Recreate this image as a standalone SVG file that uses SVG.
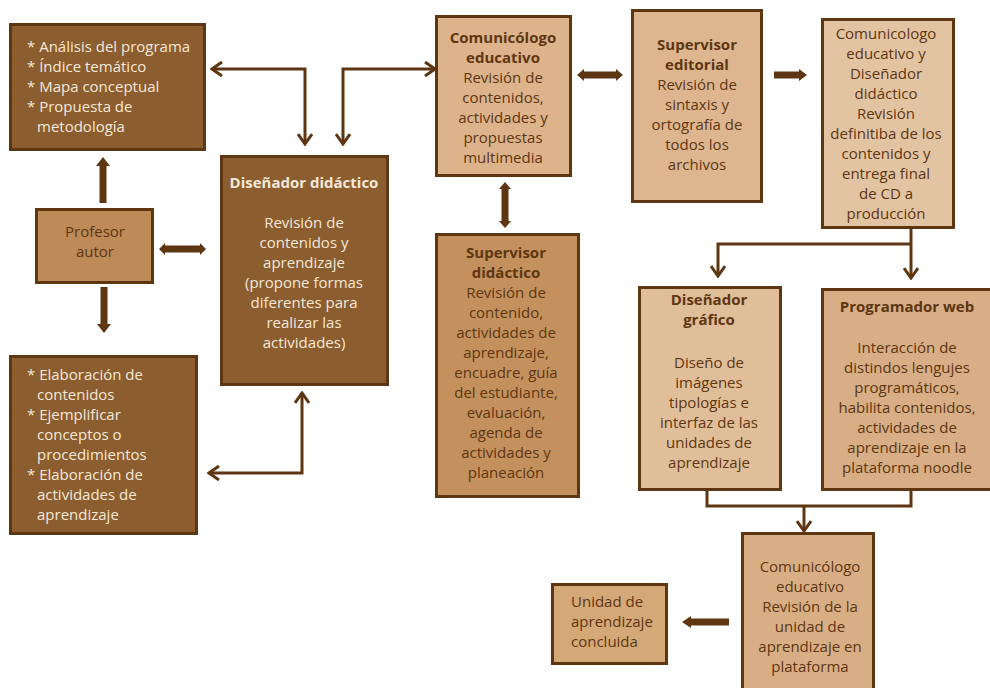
<svg xmlns="http://www.w3.org/2000/svg" width="990" height="688" viewBox="0 0 990 688">
<defs>
<style>
.box{stroke:#5e3612;stroke-width:3}
.dk{fill:#8b5d2f}
.t{font-family:"Open Sans","Liberation Sans",sans-serif;font-size:15px}
.lt{fill:#f5e8d8}
.dt{fill:#5e3612}
.b{font-weight:bold}
.c{text-anchor:middle}
.ln{fill:none;stroke:#5e3612;stroke-width:3}
.th{fill:#5e3612}
</style>
<marker id="ah" markerUnits="userSpaceOnUse" viewBox="0 0 16 16" refX="14" refY="8" markerWidth="16" markerHeight="16" orient="auto-start-reverse">
<path d="M4,1 L14,8 L4,15" fill="none" stroke="#5e3612" stroke-width="3"/>
</marker>
</defs>
<rect width="990" height="688" fill="#ffffff"/>

<g id="connectors">
<polyline class="ln" points="212,69 305,69 305,144" marker-start="url(#ah)" marker-end="url(#ah)"/>
<polyline class="ln" points="343,144 343,69 435,69" marker-start="url(#ah)" marker-end="url(#ah)"/>
<polyline class="ln" points="209,473 302,473 302,393" marker-start="url(#ah)" marker-end="url(#ah)"/>
<polyline class="ln" points="911,229 911,278" marker-end="url(#ah)"/>
<polyline class="ln" points="911,244 718,244 718,276" marker-end="url(#ah)"/>
<polyline class="ln" points="707,491 707,506 911,506 911,491"/>
<polyline class="ln" points="804,506 804,531" marker-end="url(#ah)"/>
<!-- thick arrows -->
<polygon class="th" points="99.5,203 106.5,203 106.5,166 110,166 103,157 96,166 99.5,166"/>
<polygon class="th" points="100.5,287 107.5,287 107.5,324 111,324 104,333 97,324 100.5,324"/>
<polygon class="th" points="159,249 165,243 165,245.5 200,245.5 200,243 206,249 200,255 200,252.5 165,252.5 165,255"/>
<polygon class="th" points="577,75 584,69 584,71.5 616,71.5 616,69 623,75 616,81 616,78.5 584,78.5 584,81"/>
<polygon class="th" points="505,182 511,189 508.5,189 508.5,221 511,221 505,228 499,221 501.5,221 501.5,189 499,189"/>
<polygon class="th" points="774,71.5 799,71.5 799,69 807,75 799,81 799,78.5 774,78.5"/>
<polygon class="th" points="729,618.5 691,618.5 691,616 682,622 691,628 691,625.5 729,625.5"/>
</g>

<g id="analisis">
<rect class="box dk" x="10.5" y="24.5" width="194" height="125"/>
<text class="t lt" x="27" y="52">* Análisis del programa</text>
<text class="t lt" x="27" y="72">* Índice temático</text>
<text class="t lt" x="27" y="92">* Mapa conceptual</text>
<text class="t lt" x="27" y="112">* Propuesta de</text>
<text class="t lt" x="37" y="132">metodología</text>
</g>

<g id="profesor">
<rect class="box" fill="#bd8a58" x="36.5" y="209.5" width="116" height="73"/>
<text class="t dt c" x="95" y="237">Profesor</text>
<text class="t dt c" x="95" y="257">autor</text>
</g>

<g id="elaboracion">
<rect class="box dk" x="10.5" y="356.5" width="186" height="177"/>
<text class="t lt" x="27" y="380">* Elaboración de</text>
<text class="t lt" x="37" y="400">contenidos</text>
<text class="t lt" x="27" y="420">* Ejemplificar</text>
<text class="t lt" x="37" y="440">conceptos o</text>
<text class="t lt" x="37" y="460">procedimientos</text>
<text class="t lt" x="27" y="480">* Elaboración de</text>
<text class="t lt" x="37" y="500">actividades de</text>
<text class="t lt" x="37" y="520">aprendizaje</text>
</g>

<g id="disenador-didactico">
<rect class="box dk" x="221.5" y="156.5" width="166" height="228"/>
<text class="t lt c b" x="304" y="188">Diseñador didáctico</text>
<text class="t lt c" x="304" y="228">Revisión de</text>
<text class="t lt c" x="304" y="248">contenidos y</text>
<text class="t lt c" x="304" y="268">aprendizaje</text>
<text class="t lt c" x="304" y="288">(propone formas</text>
<text class="t lt c" x="304" y="308">diferentes para</text>
<text class="t lt c" x="304" y="328">realizar las</text>
<text class="t lt c" x="304" y="348">actividades)</text>
</g>

<g id="comunicologo-educativo">
<rect class="box" fill="#ddb38b" x="436.5" y="16.5" width="134" height="159"/>
<text class="t dt c b" x="503" y="43">Comunicólogo</text>
<text class="t dt c b" x="503" y="63">educativo</text>
<text class="t dt c" x="503" y="83">Revisión de</text>
<text class="t dt c" x="503" y="103">contenidos,</text>
<text class="t dt c" x="503" y="123">actividades y</text>
<text class="t dt c" x="503" y="143">propuestas</text>
<text class="t dt c" x="503" y="163">multimedia</text>
</g>

<g id="supervisor-editorial">
<rect class="box" fill="#ddb690" x="632.5" y="10.5" width="129" height="191"/>
<text class="t dt c b" x="697" y="50">Supervisor</text>
<text class="t dt c b" x="697" y="70">editorial</text>
<text class="t dt c" x="697" y="90">Revisión de</text>
<text class="t dt c" x="697" y="110">sintaxis y</text>
<text class="t dt c" x="697" y="130">ortografía de</text>
<text class="t dt c" x="697" y="150">todos los</text>
<text class="t dt c" x="697" y="170">archivos</text>
</g>

<g id="comunicologo-disenador">
<rect class="box" fill="#e3c4a2" x="822.5" y="19.5" width="131" height="208"/>
<text class="t dt c" x="886" y="39">Comunicologo</text>
<text class="t dt c" x="886" y="59">educativo y</text>
<text class="t dt c" x="886" y="79">Diseñador</text>
<text class="t dt c" x="886" y="99">didáctico</text>
<text class="t dt c" x="886" y="119">Revisión</text>
<text class="t dt c" x="886" y="139">definitiba de los</text>
<text class="t dt c" x="886" y="159">contenidos y</text>
<text class="t dt c" x="886" y="179">entrega final</text>
<text class="t dt c" x="886" y="199">de CD a</text>
<text class="t dt c" x="886" y="219">producción</text>
</g>

<g id="supervisor-didactico">
<rect class="box" fill="#c4915e" x="436.5" y="234.5" width="142" height="262"/>
<text class="t dt c b" x="506" y="258">Supervisor</text>
<text class="t dt c b" x="506" y="278">didáctico</text>
<text class="t dt c" x="506" y="298">Revisión de</text>
<text class="t dt c" x="506" y="318">contenido,</text>
<text class="t dt c" x="506" y="338">actividades de</text>
<text class="t dt c" x="506" y="358">aprendizaje,</text>
<text class="t dt c" x="506" y="378">encuadre, guía</text>
<text class="t dt c" x="506" y="398">del estudiante,</text>
<text class="t dt c" x="506" y="418">evaluación,</text>
<text class="t dt c" x="506" y="438">agenda de</text>
<text class="t dt c" x="506" y="458">actividades y</text>
<text class="t dt c" x="506" y="478">planeación</text>
</g>

<g id="disenador-grafico">
<rect class="box" fill="#e0be99" x="639.5" y="287.5" width="141" height="202"/>
<text class="t dt c b" x="709" y="305">Diseñador</text>
<text class="t dt c b" x="709" y="325">gráfico</text>
<text class="t dt c" x="709" y="368">Diseño de</text>
<text class="t dt c" x="709" y="388">imágenes</text>
<text class="t dt c" x="709" y="408">tipologías e</text>
<text class="t dt c" x="709" y="428">interfaz de las</text>
<text class="t dt c" x="709" y="448">unidades de</text>
<text class="t dt c" x="709" y="468">aprendizaje</text>
</g>

<g id="programador-web">
<rect class="box" fill="#d7ae85" x="822.5" y="289.5" width="172" height="200"/>
<text class="t dt c b" x="907" y="312">Programador web</text>
<text class="t dt c" x="907" y="353">Interacción de</text>
<text class="t dt c" x="907" y="373">distindos lengujes</text>
<text class="t dt c" x="907" y="393">programáticos,</text>
<text class="t dt c" x="907" y="413">habilita contenidos,</text>
<text class="t dt c" x="907" y="433">actividades de</text>
<text class="t dt c" x="907" y="453">aprendizaje en la</text>
<text class="t dt c" x="907" y="473">plataforma noodle</text>
</g>

<g id="comunicologo-plataforma">
<rect class="box" fill="#d8af85" x="742.5" y="533.5" width="131" height="160"/>
<text class="t dt c" x="810" y="572">Comunicólogo</text>
<text class="t dt c" x="810" y="592">educativo</text>
<text class="t dt c" x="810" y="612">Revisión de la</text>
<text class="t dt c" x="810" y="632">unidad de</text>
<text class="t dt c" x="810" y="652">aprendizaje en</text>
<text class="t dt c" x="810" y="672">plataforma</text>
</g>

<g id="unidad-concluida">
<rect class="box" fill="#d5a878" x="552.5" y="584.5" width="114" height="79"/>
<text class="t dt" x="571" y="607">Unidad de</text>
<text class="t dt" x="571" y="627">aprendizaje</text>
<text class="t dt" x="571" y="647">concluida</text>
</g>
</svg>
